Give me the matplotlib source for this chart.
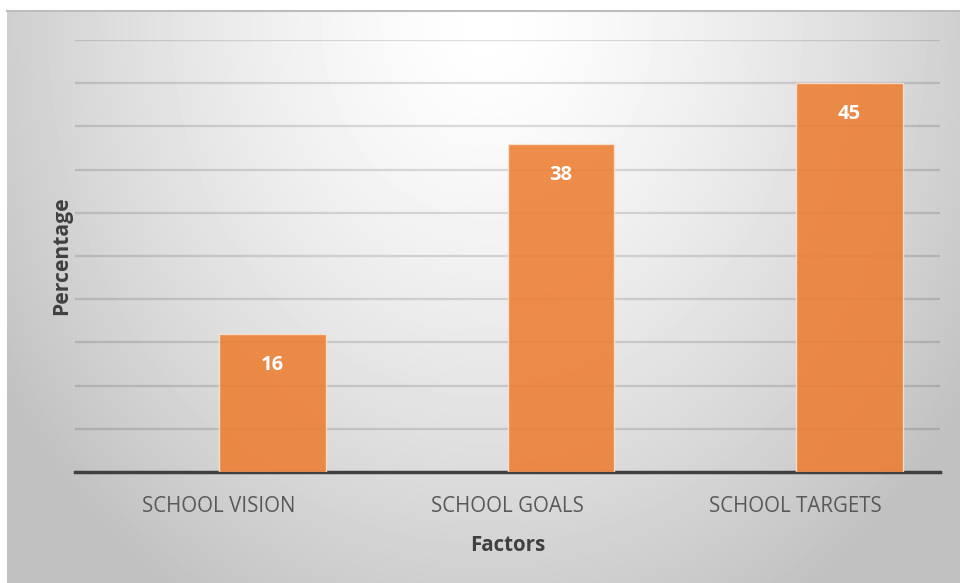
import numpy as np
import matplotlib
matplotlib.use("Agg")
import matplotlib.pyplot as plt

plt.rcParams['font.family'] = ['Open Sans', 'DejaVu Sans']

factors = ["SCHOOL VISION", "SCHOOL GOALS", "SCHOOL TARGETS"]
percentages = [16, 38, 45]

W, H = 960, 583
fig = plt.figure(figsize=(W / 100, H / 100), dpi=100)
fig.patch.set_facecolor("white")

# chart frame with a soft radial grey fill, brightest near the top middle
bg = fig.add_axes([7 / W, 0, 1 - 7 / W, 1 - 11 / H], zorder=0)
yy, xx = np.mgrid[0:572, 0:953]
r = np.sqrt(((xx - 480) / 480.0) ** 2 + ((yy - 10) / 570.0) ** 2)
shade = 1.0 - 0.19 * np.clip(r, 0, 1.2) ** 1.4
bg.imshow(shade, cmap="gray", vmin=0, vmax=1, aspect="auto",
          interpolation="bilinear")
bg.set_axis_off()
fig.add_artist(plt.Line2D([7 / W, 1], [1 - 11 / H, 1 - 11 / H],
                          color="#bdbdbd", lw=1.5, transform=fig.transFigure))

ax = fig.add_axes([75 / W, (H - 472) / H, (940 - 75) / W, (472 - 40) / H],
                  zorder=1)
ax.patch.set_alpha(0)

x = np.arange(len(factors))
bar_w = 0.37
bars = ax.bar(x, percentages, width=bar_w, align="edge", color="#ED7D31",
              alpha=0.88, edgecolor="#fbe3d2", linewidth=1.0, zorder=3)
for b, v in zip(bars, percentages):
    ax.text(b.get_x() + b.get_width() / 2, v - 3.6, f"{v}", ha="center",
            va="center", color="white", fontsize=14.5, fontweight="bold",
            zorder=4)

ax.set_xlim(-0.5, len(factors) - 0.5)
ax.set_ylim(0, 50)
ax.set_yticks(np.arange(5, 51, 5))
ax.yaxis.grid(True, color="black", alpha=0.13, linewidth=1.6, zorder=1)
ax.tick_params(axis="y", length=0, labelleft=False)
ax.set_xticks(x)
ax.set_xticklabels(factors, fontsize=14.8, color="#595959")
ax.tick_params(axis="x", length=0, pad=17)

for side in ("top", "right", "left"):
    ax.spines[side].set_visible(False)
ax.spines["bottom"].set_color("#404040")
ax.spines["bottom"].set_linewidth(2.5)

ax.set_xlabel("Factors", fontsize=14.8, fontweight="bold", color="#404040",
              labelpad=13)
ax.set_ylabel("Percentage", fontsize=15.2, fontweight="bold", color="#404040",
              labelpad=2)

fig.savefig("out.png", dpi=100)
